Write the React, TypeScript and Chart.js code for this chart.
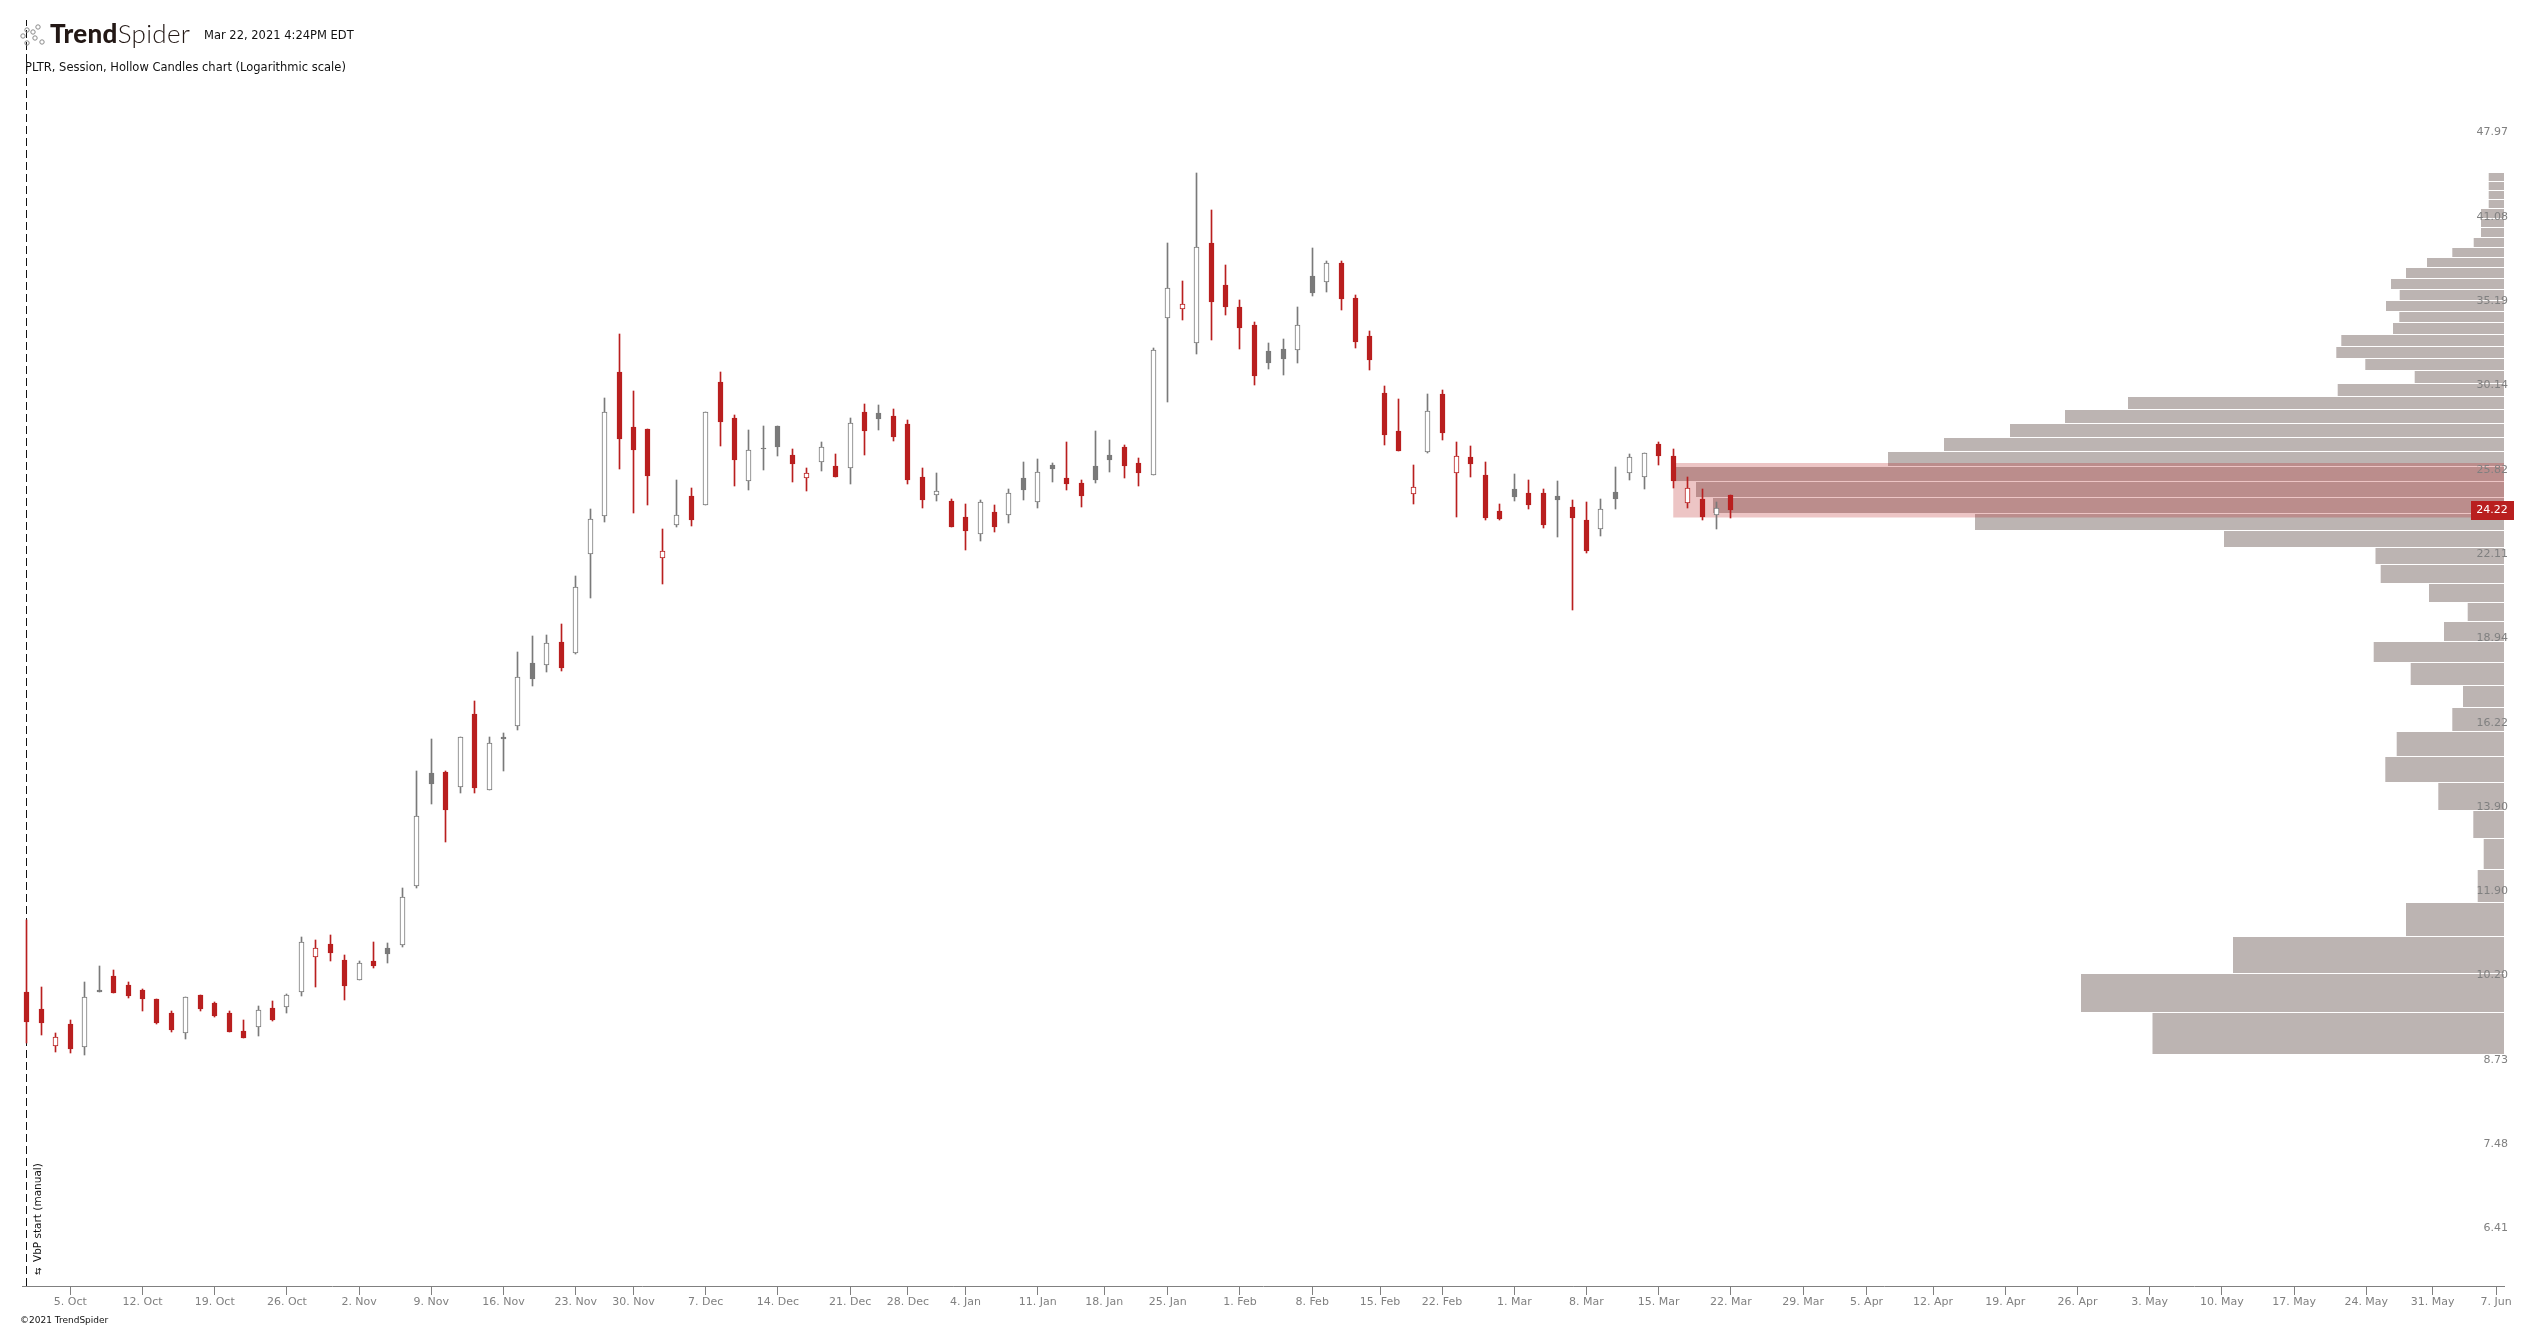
import React, { useEffect, useRef } from "react";
import { Chart, registerables } from "chart.js";

Chart.register(...registerables);

const candleStyle =
  "RRrRgGRRRR" + "RgRRRRgRgg" + "rRRgRGggGR" + "gRgGgGgRgg" + "gRRRrgRgRR" +
  "gGGRrgRgRG" + "RRRgRRgRgG" + "gGRRGGRRgg" + "rgRRRRGGgG" + "gRRRRRrgRr" +
  "RRRGRRGRRg" + "GggRRrRgR";

const candleHigh = [
  11.42,10.09,9.27,9.50,10.18,10.49,10.40,10.19,10.05,9.87,
  9.66,9.90,9.95,9.82,9.66,9.49,9.74,9.84,9.96,11.05,
  10.99,11.11,10.69,10.58,10.95,10.93,12.11,15.01,15.91,15.01,
  15.96,17.06,15.98,16.09,18.68,19.23,19.26,19.65,21.47,24.28,
  29.76,33.48,30.15,28.12,23.41,25.61,25.24,29.00,31.22,28.85,
  28.07,28.27,28.27,27.11,26.18,27.46,26.86,28.69,29.44,29.38,
  29.17,28.59,26.18,25.94,24.73,24.50,24.68,24.46,25.19,26.47,
  26.61,26.42,27.46,25.61,28.02,27.56,27.31,26.66,32.63,39.56,
  36.90,44.99,42.04,38.00,35.63,34.22,32.93,33.17,35.18,39.20,
  38.28,38.28,35.95,33.66,30.43,29.71,26.32,29.98,30.20,27.46,
  27.26,26.47,24.50,25.89,25.61,25.19,25.56,24.68,24.59,24.73,
  26.22,26.86,26.90,27.46,27.11,25.75,25.19,24.59,24.90,
];
const candleLow = [
  9.11,9.23,8.95,8.93,8.91,9.99,9.98,9.89,9.66,9.42,
  9.29,9.17,9.66,9.54,9.29,9.19,9.22,9.47,9.61,9.93,
  10.09,10.58,9.85,10.22,10.44,10.55,10.85,12.09,14.12,13.17,
  14.41,14.41,14.49,15.01,16.17,17.54,18.00,18.01,18.58,20.63,
  23.72,26.11,24.10,24.46,21.16,23.49,23.53,24.43,27.26,25.33,
  25.15,26.08,26.76,25.52,25.09,26.03,25.75,25.42,26.81,28.07,
  27.51,25.42,24.33,24.64,23.49,22.52,22.90,23.28,23.67,24.68,
  24.33,25.52,25.14,24.37,25.47,25.99,25.70,25.33,25.83,29.54,
  34.35,32.27,33.11,34.65,32.56,30.49,31.39,31.05,31.74,35.89,
  36.16,34.98,32.63,31.33,27.31,27.01,24.50,26.91,27.56,23.92,
  25.75,23.79,23.79,24.64,24.28,23.45,23.06,20.17,22.39,23.10,
  24.28,25.61,25.19,26.32,25.24,24.33,23.79,23.41,23.88,
];
const candleOpen = [
  10.00,9.69,9.05,9.43,9.04,10.04,10.30,10.13,10.04,9.87,
  9.61,9.27,9.95,9.79,9.61,9.31,9.38,9.71,9.72,10.00,
  10.66,10.91,10.61,10.22,10.58,10.83,10.90,12.15,14.95,14.98,
  14.57,16.66,14.49,15.96,16.29,18.30,18.21,19.02,18.63,22.34,
  23.96,31.22,28.23,28.12,22.20,23.55,24.86,24.43,30.66,28.69,
  25.53,27.15,28.27,26.81,25.67,26.48,26.27,26.16,29.01,28.96,
  28.80,28.38,25.75,24.92,24.64,23.92,23.18,24.14,24.00,25.70,
  24.58,26.32,25.70,25.47,26.27,26.81,27.21,26.42,25.83,34.45,
  35.07,32.95,39.56,36.63,35.18,34.03,32.46,32.56,32.52,37.24,
  36.85,38.13,35.76,33.35,30.04,28.02,24.97,26.96,29.98,25.95,
  26.71,25.84,24.19,25.19,24.99,24.99,24.86,24.37,23.79,23.40,
  25.04,25.93,25.73,27.36,26.76,24.54,24.73,24.00,24.90,
];
const candleClose = [
  9.46,9.44,9.20,9.01,9.90,9.99,9.98,9.93,9.87,9.45,
  9.33,9.90,9.69,9.56,9.29,9.19,9.67,9.49,9.94,10.95,
  10.84,10.73,10.11,10.55,10.49,10.71,11.91,13.82,14.66,13.97,
  15.96,14.55,15.80,15.91,17.83,17.77,18.98,18.11,21.03,23.82,
  29.00,27.61,27.06,25.80,22.47,24.00,23.79,29.00,28.48,26.56,
  27.04,27.10,27.21,26.37,25.92,27.19,25.75,28.42,28.02,28.64,
  27.71,25.61,24.68,25.08,23.49,23.32,24.58,23.49,24.99,25.14,
  25.97,26.11,25.42,24.86,25.61,26.56,26.27,25.94,32.50,36.41,
  35.35,39.25,35.50,35.18,33.84,31.00,31.74,31.97,34.01,36.09,
  38.12,35.69,32.99,31.91,27.81,27.01,25.27,29.05,27.91,26.75,
  26.37,23.88,23.84,24.81,24.46,23.58,24.68,23.88,22.48,24.28,
  24.73,26.70,26.90,26.76,25.56,25.22,23.92,24.30,24.22,
];

const profileEdges = [
  8.90,9.62,10.34,11.06,11.78,12.51,13.23,13.95,14.67,15.39,
  16.11,16.83,17.55,18.28,19.00,19.72,20.44,21.16,21.88,22.60,
  23.32,24.05,24.77,25.49,26.21,26.93,27.65,28.37,29.09,29.81,
  30.54,31.26,31.98,32.70,33.42,34.14,34.86,35.58,36.30,37.03,
  37.75,38.47,39.19,39.91,40.63,41.35,42.07,42.79,43.52,44.24,44.96,
];
const profileVolume = [
  35.15,42.3,27.1,9.8,2.63,2.03,3.07,6.57,11.87,10.73,
  5.17,4.1,9.33,13.03,6.0,3.63,7.5,12.33,12.85,28.0,
  52.9,79.1,80.8,82.8,61.6,56.0,49.4,43.9,37.6,16.63,
  8.93,13.87,16.77,16.27,11.1,10.47,11.8,10.43,11.3,9.8,
  7.7,5.17,3.03,2.3,2.3,2.3,1.53,1.53,1.53,1.53,
];
const valueAreaHigh = 26.41;
const valueAreaLow = 23.89;
const valueAreaStart = 114;
const lastPrice = 24.22;

const priceTicks = [47.97,41.08,35.19,30.14,25.82,22.11,18.94,16.22,13.90,11.90,10.20,8.73,7.48,6.41];
const dateTickIndex = [3,8,13,18,23,28,33,38,42,47,52,57,61,65,70,74.6,79,84,89,93.7,98,103,108,113,118,123,127.4,132,137,142,147,152,157,162,166.6,171];
const dateTickLabels = [
  "5. Oct","12. Oct","19. Oct","26. Oct","2. Nov","9. Nov","16. Nov","23. Nov","30. Nov",
  "7. Dec","14. Dec","21. Dec","28. Dec","4. Jan","11. Jan","18. Jan","25. Jan","1. Feb",
  "8. Feb","15. Feb","22. Feb","1. Mar","8. Mar","15. Mar","22. Mar","29. Mar","5. Apr",
  "12. Apr","19. Apr","26. Apr","3. May","10. May","17. May","24. May","31. May","7. Jun",
];

const X_MIN = -0.346;
const X_MAX = 171.54;
const Y_MIN = 5.826;
const Y_MAX = 59.58;
const RED = "#b91f1f";
const GREY = "#7a7a7a";
const FONT = "'DejaVu Sans', sans-serif";

const snapPlugin = {
  id: "snap",
  afterDatasetsUpdate(chart: any) {
    const yScale = chart.scales.y;
    chart.data.datasets.forEach((ds: any, i: number) => {
      const meta = chart.getDatasetMeta(i);
      if (ds.label === "profile") {
        meta.data.forEach((el: any, k: number) => {
          const t = Math.round(yScale.getPixelForValue(profileEdges[k + 1]));
          const b = Math.round(yScale.getPixelForValue(profileEdges[k]));
          el.height = b - t - 1;
          el.y = t + (b - t - 1) / 2;
        });
      } else if (ds.label === "wick" || ds.label === "body") {
        meta.data.forEach((el: any) => {
          el.x = Math.floor(el.x) + 0.5;
          let top = Math.round(Math.min(el.y, el.base));
          let bot = Math.round(Math.max(el.y, el.base));
          if (bot - top < 1) bot = top + 1;
          el.y = top;
          el.base = bot;
          el.height = bot - top;
        });
      } else if (ds.label === "vbpStart") {
        meta.data.forEach((el: any) => {
          el.x = Math.floor(el.x) + 0.5;
        });
      }
    });
  },
};

const overlayPlugin = {
  id: "overlay",
  afterDraw(chart: any) {
    const { ctx, scales } = chart;
    ctx.save();

    // logo
    ctx.strokeStyle = "#8a8a8a";
    ctx.lineWidth = 1;
    [[38, 27], [33, 32], [23, 36], [35, 38], [42, 42], [27, 43], [27, 30]].forEach(([cx, cy]) => {
      ctx.beginPath();
      ctx.arc(cx, cy, 2.2, 0, Math.PI * 2);
      ctx.stroke();
    });
    ctx.textBaseline = "alphabetic";
    ctx.textAlign = "left";
    ctx.fillStyle = "#231815";
    ctx.font = "900 26px Lato, sans-serif";
    (ctx as any).letterSpacing = "0.3px";
    ctx.fillText("Trend", 50, 43);
    const w = ctx.measureText("Trend").width;
    ctx.font = "300 26px Lato, sans-serif";
    ctx.fillText("Spider", 50 + w, 43);
    (ctx as any).letterSpacing = "0px";

    ctx.fillStyle = "#111";
    ctx.font = `11.5px ${FONT}`;
    ctx.fillText("Mar 22, 2021 4:24PM EDT", 204, 39);
    ctx.fillText("PLTR, Session, Hollow Candles chart (Logarithmic scale)", 25, 71);
    ctx.font = `9px ${FONT}`;
    ctx.fillText("\u00A92021 TrendSpider", 20, 1323);

    // VbP label
    ctx.save();
    ctx.translate(41, 1262);
    ctx.rotate(-Math.PI / 2);
    ctx.font = `10.5px ${FONT}`;
    ctx.fillStyle = "#111";
    ctx.fillText("VbP start (manual)", 0, 0);
    ctx.font = `9px ${FONT}`;
    ctx.fillText("\u21C6", -13, 0);
    ctx.restore();

    // last price badge
    const py = scales.y.getPixelForValue(lastPrice);
    ctx.fillStyle = RED;
    ctx.fillRect(2471, Math.round(py) - 9, 43, 19);
    ctx.fillStyle = "#fff";
    ctx.textAlign = "center";
    ctx.textBaseline = "middle";
    ctx.font = `11px ${FONT}`;
    ctx.fillText(lastPrice.toFixed(2), 2492, Math.round(py) + 0.5);
    ctx.restore();
  },
};

export default function App() {
  const ref = useRef<HTMLCanvasElement | null>(null);

  useEffect(() => {
    const colorOf = (s: string) => (s === "R" || s === "r" ? RED : GREY);
    const styles = candleStyle.split("");
    const chart = new Chart(ref.current as HTMLCanvasElement, {
      type: "bar",
      data: {
        datasets: [
          {
            label: "body",
            data: candleOpen.map((o, i) => ({ x: i, y: [o, candleClose[i]] })),
            grouped: false,
            order: 1,
            maxBarThickness: 5,
            barPercentage: 1,
            categoryPercentage: 1,
            borderSkipped: false,
            backgroundColor: styles.map((s) => (s === "R" || s === "G" ? colorOf(s) : "#ffffff")),
            borderColor: styles.map(colorOf),
            borderWidth: 1,
          },
          {
            label: "wick",
            data: candleHigh.map((h, i) => ({ x: i, y: [candleLow[i], h] })),
            grouped: false,
            order: 2,
            maxBarThickness: 1,
            barPercentage: 1,
            categoryPercentage: 1,
            borderWidth: 0,
            backgroundColor: styles.map(colorOf),
          },
          {
            type: "line",
            label: "vbpStart",
            data: [{ x: 0, y: Y_MIN }, { x: 0, y: Y_MAX }],
            order: 3,
            borderColor: "#111111",
            borderWidth: 1,
            borderDash: [8, 4],
            pointRadius: 0,
            fill: false,
          },
          {
            type: "line",
            label: "valueArea",
            data: [{ x: valueAreaStart, y: valueAreaHigh }, { x: X_MAX, y: valueAreaHigh }],
            order: 4,
            borderWidth: 0,
            pointRadius: 0,
            backgroundColor: "rgba(187,31,31,0.26)",
            fill: { value: valueAreaLow },
          },
          {
            label: "profile",
            indexAxis: "y",
            xAxisID: "xVol",
            yAxisID: "y",
            grouped: false,
            order: 5,
            maxBarThickness: 8,
            borderWidth: 0,
            backgroundColor: "#bcb4b2",
            data: profileVolume.map((v, i) => ({
              x: v,
              y: (profileEdges[i] + profileEdges[i + 1]) / 2,
            })),
          },
        ],
      } as any,
      options: {
        responsive: false,
        animation: false,
        devicePixelRatio: 1,
        layout: { padding: { left: 22, right: 30, top: 20, bottom: 0 } },
        plugins: { legend: { display: false }, tooltip: { enabled: false }, title: { display: false } },
        events: [],
        scales: {
          x: {
            type: "linear",
            position: "bottom",
            min: X_MIN,
            max: X_MAX,
            offset: false,
            bounds: "data",
            grid: { display: true, drawOnChartArea: false, drawTicks: true, tickLength: 9, color: "#808080", offset: false },
            border: { display: true, color: "#808080", width: 1 },
            afterBuildTicks: (s: any) => {
              s.ticks = dateTickIndex.map((value) => ({ value }));
            },
            afterFit: (s: any) => {
              s.height = 45;
            },
            ticks: {
              autoSkip: false,
              maxRotation: 0,
              minRotation: 0,
              padding: 1,
              color: "#808080",
              font: { family: FONT, size: 11 },
              callback: (_v: any, i: number) => dateTickLabels[i],
            },
          },
          xVol: {
            type: "linear",
            position: "top",
            display: false,
            reverse: true,
            min: 0,
            max: 248.2,
            offset: false,
            bounds: "data",
            grid: { display: false, offset: false },
          },
          y: {
            type: "logarithmic",
            position: "right",
            min: Y_MIN,
            max: Y_MAX,
            bounds: "data",
            grid: { display: false },
            border: { display: false },
            afterBuildTicks: (s: any) => {
              s.ticks = priceTicks.map((value) => ({ value }));
            },
            afterFit: (s: any) => {
              s.width = 0;
            },
            ticks: {
              mirror: true,
              autoSkip: false,
              z: 1,
              align: "end",
              padding: 4,
              color: "#808080",
              font: { family: FONT, size: 11 },
              callback: (v: any) => Number(v).toFixed(2),
            },
          },
        },
      } as any,
      plugins: [snapPlugin, overlayPlugin],
    } as any);
    return () => chart.destroy();
  }, []);

  return (
    <div style={{ position: "fixed", left: 0, top: 0, width: 2534, height: 1331, background: "#fff" }}>
      <canvas ref={ref} width={2534} height={1331} style={{ display: "block" }} />
    </div>
  );
}
